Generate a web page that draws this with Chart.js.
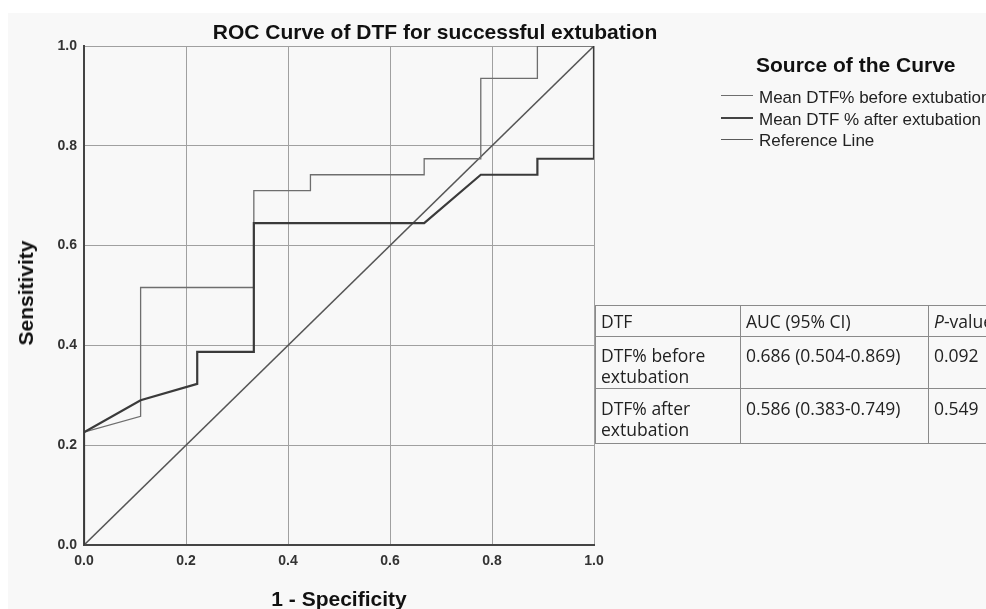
<!DOCTYPE html>
<html>
<head>
<meta charset="utf-8">
<script src="https://cdn.jsdelivr.net/npm/chart.js@4.4.1/dist/chart.umd.min.js"></script>
<style>
  html, body { margin:0; padding:0; background:#ffffff; }
  #wrap { position:relative; width:986px; height:609px; overflow:hidden; background:#ffffff; }
  #panel { position:absolute; left:8px; top:13px; width:978px; height:596px; background:#f8f8f8; }
  #c { position:absolute; left:0; top:0; }
  .t { position:absolute; font-family:"Liberation Sans", Arial, sans-serif; color:#111; white-space:nowrap; }
  #title { left:0; width:870px; top:20px; text-align:center; font-weight:bold; font-size:21px; }
  #ytitle { left:26px; top:293px; font-weight:bold; font-size:21px; transform:translate(-50%,-50%) rotate(-90deg); }
  #xtitle { left:339px; top:599px; font-weight:bold; font-size:21px; transform:translate(-50%,-50%); }
  #legtitle { left:756px; top:53px; font-weight:bold; font-size:21px; }
  .sw { position:absolute; left:721px; width:32px; height:0; }
  .leg { position:absolute; left:759px; font-family:"Liberation Sans", Arial, sans-serif; font-size:17px; line-height:20px; color:#222; white-space:nowrap; }
  table { position:absolute; left:595px; top:305px; border-collapse:collapse; table-layout:fixed; width:520px; font-family:"Open Sans", "Noto Sans", sans-serif; font-size:17.5px; color:#222; }
  td { border:1.5px solid #8a8a8a; padding:0 5px 0 5px; vertical-align:top; line-height:21px; overflow:hidden; white-space:nowrap; }
  tr.h td { padding-top:5px; }
  tr.r1 td { padding-top:8px; }
  tr.r2 td { padding-top:9px; }
</style>
</head>
<body>
<div id="wrap">
  <div id="panel"></div>
  <canvas id="c" width="986" height="609"></canvas>
  <div class="t" id="title">ROC Curve of DTF for successful extubation</div>
  <div class="t" id="ytitle">Sensitivity</div>
  <div class="t" id="xtitle">1 - Specificity</div>
  <div class="t" id="legtitle">Source of the Curve</div>
  <div class="sw" style="top:95px; border-top:1.3px solid #6e6e6e"></div>
  <div class="sw" style="top:117px; border-top:2px solid #444"></div>
  <div class="sw" style="top:139px; border-top:1.6px solid #5a5a5a"></div>
  <div class="leg" style="top:88px">Mean DTF% before extubation</div>
  <div class="leg" style="top:110px">Mean DTF % after extubation</div>
  <div class="leg" style="top:131px">Reference Line</div>
  <table>
    <colgroup><col style="width:145px"><col style="width:188px"><col style="width:187px"></colgroup>
    <tr class="h" style="height:31px"><td>DTF</td><td>AUC (95% CI)</td><td><i>P</i>-value</td></tr>
    <tr class="r1" style="height:52px"><td>DTF% before<br>extubation</td><td>0.686 (0.504-0.869)</td><td>0.092</td></tr>
    <tr class="r2" style="height:55px"><td>DTF% after<br>extubation</td><td>0.586 (0.383-0.749)</td><td>0.549</td></tr>
  </table>
</div>
<script>
// ROC data (1 - Specificity, Sensitivity)
const beforeX = [0, 0, 0.111, 0.111, 0.333, 0.333, 0.444, 0.444, 0.667, 0.667, 0.778, 0.778, 0.889, 0.889, 1.0];
const beforeY = [0, 0.226, 0.258, 0.516, 0.516, 0.710, 0.710, 0.742, 0.742, 0.774, 0.774, 0.935, 0.935, 1.0, 1.0];
const afterX  = [0, 0, 0.111, 0.222, 0.222, 0.333, 0.333, 0.667, 0.778, 0.889, 0.889, 1.0, 1.0];
const afterY  = [0, 0.226, 0.290, 0.323, 0.387, 0.387, 0.645, 0.645, 0.742, 0.742, 0.774, 0.774, 1.0];
const refX = [0, 1];
const refY = [0, 1];
const xTicks = [0, 0.2, 0.4, 0.6, 0.8, 1.0];
const yTicks = [0, 0.2, 0.4, 0.6, 0.8, 1.0];

const pts = (xs, ys) => xs.map((x, i) => ({x: x, y: ys[i]}));

new Chart(document.getElementById('c'), {
  type: 'scatter',
  data: {
    datasets: [
      { label: 'Reference Line', data: pts(refX, refY), showLine: true, borderColor: '#555555', borderWidth: 1.6, pointRadius: 0, tension: 0, order: 3 },
      { label: 'Mean DTF% before extubation', data: pts(beforeX, beforeY), showLine: true, borderColor: '#6e6e6e', borderWidth: 1.3, pointRadius: 0, tension: 0, order: 2 },
      { label: 'Mean DTF % after extubation', data: pts(afterX, afterY), showLine: true, borderColor: '#3a3a3a', borderWidth: 2.2, pointRadius: 0, tension: 0, order: 1 }
    ]
  },
  options: {
    responsive: false,
    animation: false,
    devicePixelRatio: 1,
    layout: { padding: { left: 0, top: 46, right: 392, bottom: 0 } },
    plugins: { legend: { display: false }, title: { display: false }, tooltip: { enabled: false } },
    scales: {
      x: {
        type: 'linear', min: 0, max: 1,
        afterBuildTicks: s => { s.ticks = xTicks.map(v => ({value: v})); },
        afterFit: s => { s.height = 64; },
        ticks: { callback: v => Number(v).toFixed(1), font: { family: 'Liberation Sans', size: 14, weight: 'bold' }, color: '#333', padding: 8, maxRotation: 0 },
        grid: { color: '#a0a0a0', lineWidth: 1, drawTicks: false },
        border: { color: '#444', width: 2 }
      },
      y: {
        type: 'linear', min: 0, max: 1,
        afterBuildTicks: s => { s.ticks = yTicks.map(v => ({value: v})); },
        afterFit: s => { s.width = 84; },
        ticks: { callback: v => Number(v).toFixed(1), font: { family: 'Liberation Sans', size: 14, weight: 'bold' }, color: '#333', padding: 7 },
        grid: { color: '#a0a0a0', lineWidth: 1, drawTicks: false },
        border: { color: '#444', width: 2 }
      }
    }
  }
});
</script>
</body>
</html>
